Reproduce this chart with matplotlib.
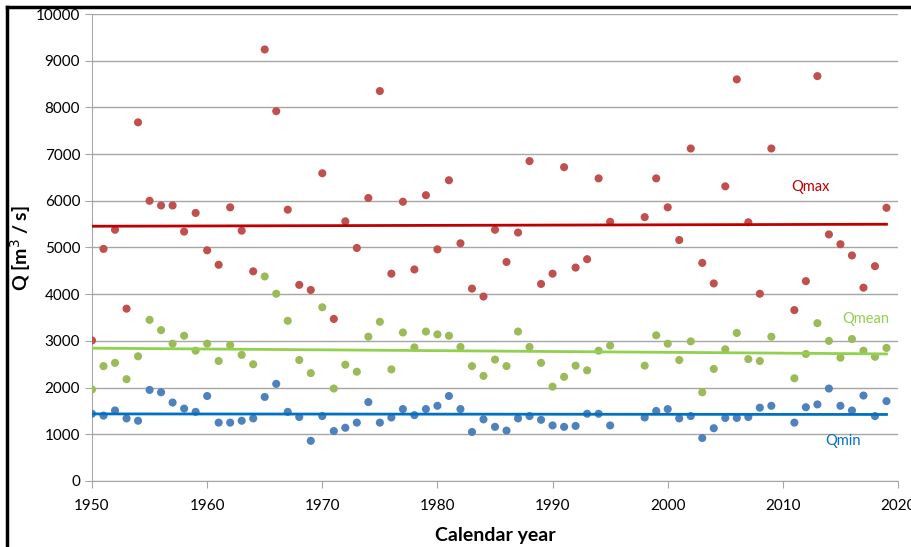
import matplotlib.pyplot as plt
from matplotlib.lines import Line2D
import numpy as np

years = [1950, 1951, 1952, 1953, 1954, 1955, 1956, 1957, 1958, 1959,
         1960, 1961, 1962, 1963, 1964, 1965, 1966, 1967, 1968, 1969,
         1970, 1971, 1972, 1973, 1974, 1975, 1976, 1977, 1978, 1979,
         1980, 1981, 1982, 1983, 1984, 1985, 1986, 1987, 1988, 1989,
         1990, 1991, 1992, 1993, 1994, 1995, 1998, 1999,
         2000, 2001, 2002, 2003, 2004, 2005, 2006, 2007, 2008, 2009,
         2011, 2012, 2013, 2014, 2015, 2016, 2017, 2018, 2019]

qmax = [3010, 4970, 5380, 3690, 7680, 6000, 5900, 5900, 5340, 5740,
        4940, 4630, 5860, 5360, 4490, 9240, 7920, 5810, 4200, 4090,
        6590, 3470, 5560, 4990, 6060, 8350, 4440, 5980, 4530, 6120,
        4960, 6440, 5090, 4120, 3950, 5380, 4690, 5320, 6850, 4220,
        4440, 6720, 4570, 4750, 6480, 5550, 5650, 6480,
        5860, 5160, 7120, 4670, 4230, 6310, 8600, 5540, 4010, 7120,
        3660, 4280, 8670, 5280, 5070, 4830, 4140, 4600, 5850]

qmean = [1960, 2460, 2530, 2180, 2670, 3450, 3230, 2940, 3110, 2790,
         2940, 2570, 2910, 2700, 2500, 4380, 4010, 3430, 2590, 2310,
         3720, 1980, 2490, 2340, 3090, 3410, 2390, 3180, 2860, 3200,
         3140, 3110, 2870, 2460, 2250, 2600, 2460, 3200, 2870, 2530,
         2020, 2230, 2470, 2370, 2790, 2900, 2470, 3120,
         2940, 2590, 2990, 1900, 2400, 2820, 3170, 2610, 2570, 3090,
         2200, 2720, 3380, 3000, 2640, 3040, 2790, 2660, 2850]

qmin = [1440, 1400, 1510, 1340, 1290, 1950, 1900, 1680, 1550, 1480,
        1820, 1250, 1250, 1290, 1340, 1800, 2080, 1480, 1370, 860,
        1390, 1070, 1140, 1250, 1690, 1250, 1360, 1540, 1410, 1540,
        1610, 1820, 1540, 1050, 1320, 1160, 1080, 1340, 1390, 1310,
        1190, 1160, 1180, 1440, 1440, 1190, 1360, 1500,
        1540, 1340, 1390, 920, 1130, 1350, 1350, 1370, 1570, 1610,
        1250, 1580, 1640, 1980, 1610, 1510, 1830, 1390, 1710]

series = [
    ('Qmax', qmax, '#C0504D', '#C00000', (2012.4, 6300)),
    ('Qmean', qmean, '#9BBB59', '#92D050', (2017.2, 3460)),
    ('Qmin', qmin, '#4F81BD', '#0070C0', (2015.2, 850)),
]

plt.rcParams['font.family'] = ['Lato', 'DejaVu Sans']

fig = plt.figure(figsize=(9.11, 5.47), dpi=100)
ax = fig.add_axes([92 / 911, 1 - 481 / 547, 806 / 911, 467 / 547])

x = np.array(years, dtype=float)
for name, vals, dot_color, line_color, label_pos in series:
    y = np.array(vals, dtype=float)
    ax.scatter(x, y, s=34, color=dot_color, edgecolors='none', zorder=3)
    k, b = np.polyfit(x, y, 1)
    xs = np.array([x[0], x[-1]])
    ax.plot(xs, k * xs + b, color=line_color, lw=2, zorder=4)
    ax.text(label_pos[0], label_pos[1], name, color=line_color, fontsize=10.5,
            ha='center', va='center')

ax.set_xlim(1950, 2020)
ax.set_ylim(0, 10000)
ax.set_xticks(np.arange(1950, 2021, 10))
ax.set_yticks(np.arange(0, 10001, 1000))
ax.yaxis.grid(True, color='#A6A6A6', lw=1)
ax.set_axisbelow(True)
for side in ['top', 'right']:
    ax.spines[side].set_visible(False)
for side in ['left', 'bottom']:
    ax.spines[side].set_color('#A6A6A6')
ax.tick_params(direction='out', length=5, color='#A6A6A6', labelsize=11,
               labelcolor='#000000')
ax.tick_params(axis='x', pad=8)

ax.set_xlabel('Calendar year', fontsize=14, fontweight='bold', labelpad=10)
ax.set_ylabel('Q [m$^3$ / s]', fontsize=14, fontweight='bold')
ax.yaxis.set_label_coords(-0.073, 0.5)

# black frame lines on top and left of the picture
fig.add_artist(Line2D([7 / 911, 7 / 911], [0, 1 - 7 / 547], color='black',
                      lw=2.5, transform=fig.transFigure))
fig.add_artist(Line2D([7 / 911, 1], [1 - 7 / 547, 1 - 7 / 547], color='black',
                      lw=2.5, transform=fig.transFigure))

fig.savefig('out.png', dpi=100)
